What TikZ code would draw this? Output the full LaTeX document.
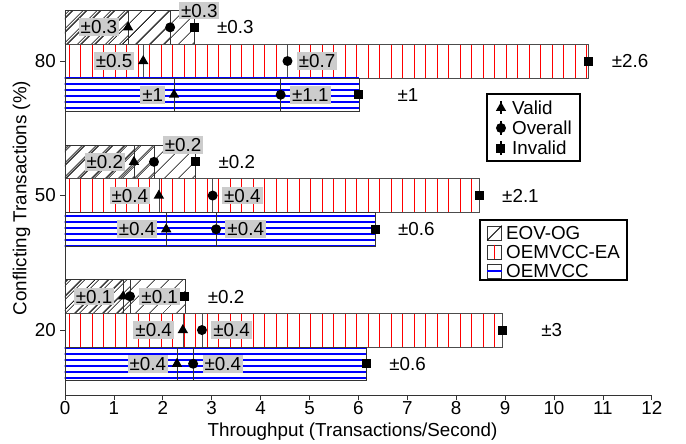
\documentclass[tikz,border=0pt]{standalone}
\usepackage{fontspec}
\setmainfont{Liberation Sans}
\usepackage{tikz}
\usetikzlibrary{patterns.meta,positioning,shapes}
\definecolor{oemblue}{RGB}{0,0,255}
\definecolor{eared}{RGB}{255,0,0}
% three overlapping bars of one row: name, top, style, valid, overall, invalid
\newcommand{\barrow}[6]{%
  \draw [#3] (0,#2) rectangle (#6,#2+33.7);
  \draw [#3] (0,#2) rectangle (#5,#2+33.7);
  \draw [#3] (0,#2) rectangle (#4,#2+33.7);
  \node [sqmark] (#1i) at (#6,#2+16.85) {};
  \node [dotmark] (#1o) at (#5,#2+16.85) {};
  \node [trimark] (#1v) at (#4,#2+16.85) {};
}
\tikzset{
  eovbar/.style={draw=black!80,line width=0.6pt,
    pattern={Lines[angle=45,distance=10.5pt,line width=0.7pt]},pattern color=black},
  eabar/.style={draw=black!70,line width=0.6pt,
    pattern={Lines[angle=90,distance=11.5pt,line width=0.8pt]},pattern color=eared},
  oembar/.style={draw=black!80,line width=0.6pt,
    pattern={Lines[angle=0,distance=6pt,line width=1.1pt]},pattern color=oemblue},
  trimark/.style={fill=black,regular polygon,regular polygon sides=3,
   minimum size=12pt,inner sep=0pt},
  dotmark/.style={fill=black,circle,minimum size=10pt,inner sep=0pt},
  sqmark/.style={fill=black,rectangle,minimum size=9pt,inner sep=0pt},
  errbox/.style={fill=black!20,inner xsep=2pt,inner ysep=2.2pt,
    text height=13.3pt,text depth=0pt},
  errtext/.style={inner sep=0pt,text height=13.3pt,text depth=0pt},
  axisline/.style={draw=black!80,line width=0.7pt},
  legbox/.style={draw=black,line width=1.5pt,inner sep=0pt},
  legtext/.style={anchor=west,inner sep=0pt},
  swatch/.style={draw=black!80,line width=0.6pt,minimum size=14pt,inner sep=0pt}
}
\begin{document}
\begin{tikzpicture}[x=48.9pt,y=-1pt,font=\fontsize{18.8}{22}\selectfont]
  \useasboundingbox (-1.3292,0) rectangle (12.6994,444);

  % 80 %
  \barrow{a80}{10.5}{eovbar}{1.29}{2.15}{2.64}
  \barrow{b80}{44.2}{eabar}{1.6}{4.55}{10.71}
  \barrow{c80}{77.9}{oembar}{2.23}{4.41}{6.01}
  % 50 %
  \barrow{a50}{145}{eovbar}{1.41}{1.82}{2.67}
  \barrow{b50}{178.7}{eabar}{1.92}{3.02}{8.47}
  \barrow{c50}{212.4}{oembar}{2.07}{3.09}{6.34}
  % 20 %
  \barrow{a20}{279.5}{eovbar}{1.19}{1.33}{2.45}
  \barrow{b20}{313.2}{eabar}{2.41}{2.8}{8.95}
  \barrow{c20}{346.9}{oembar}{2.29}{2.62}{6.16}

  \node [errbox,left=5pt of a80v] (ea80v) {±0.3};
  \node [errbox,anchor=south west] (ea80o) at ([shift={(5pt,4pt)}]a80o.north east) {±0.3};
  \node [errtext,right=55pt of a80i.east,anchor=east] (ea80i) {±0.3};
  \node [errbox,left=5pt of b80v] (eb80v) {±0.5};
  \node [errbox,right=4pt of b80o] (eb80o) {±0.7};
  \node [errtext,right=55pt of b80i.east,anchor=east] (eb80i) {±2.6};
  \node [errbox,left=5pt of c80v] (ec80v) {±1};
  \node [errbox,right=4pt of c80o] (ec80o) {±1.1};
  \node [errtext,right=55pt of c80i.east,anchor=east] (ec80i) {±1};

  \node [errbox,left=5pt of a50v] (ea50v) {±0.2};
  \node [errbox,anchor=south west] (ea50o) at ([shift={(5pt,4pt)}]a50o.north east) {±0.2};
  \node [errtext,right=55pt of a50i.east,anchor=east] (ea50i) {±0.2};
  \node [errbox,left=5pt of b50v] (eb50v) {±0.4};
  \node [errbox,right=4pt of b50o] (eb50o) {±0.4};
  \node [errtext,right=55pt of b50i.east,anchor=east] (eb50i) {±2.1};
  \node [errbox,left=5pt of c50v] (ec50v) {±0.4};
  \node [errbox,right=4pt of c50o] (ec50o) {±0.4};
  \node [errtext,right=55pt of c50i.east,anchor=east] (ec50i) {±0.6};

  \node [errbox,left=5pt of a20v] (ea20v) {±0.1};
  \node [errbox,right=4pt of a20o] (ea20o) {±0.1};
  \node [errtext,right=55pt of a20i.east,anchor=east] (ea20i) {±0.2};
  \node [errbox,left=5pt of b20v] (eb20v) {±0.4};
  \node [errbox,right=4pt of b20o] (eb20o) {±0.4};
  \node [errtext,right=55pt of b20i.east,anchor=east] (eb20i) {±3};
  \node [errbox,left=5pt of c20v] (ec20v) {±0.4};
  \node [errbox,right=4pt of c20o] (ec20o) {±0.4};
  \node [errtext,right=55pt of c20i.east,anchor=east] (ec20i) {±0.6};

  % axes
  \draw [axisline] (0,10.5) -- (0,395) -- (12,395);
  \foreach \t in {0,...,12}
    \draw [axisline] (\t,395) -- (\t,400) node [below=1pt,inner sep=0pt] {\t};
  \draw [axisline] (0,61) -- (-0.1,61) node [left=4pt,inner sep=0pt] (y80) {80};
  \draw [axisline] (0,195.5) -- (-0.1,195.5) node [left=4pt,inner sep=0pt] (y50) {50};
  \draw [axisline] (0,330) -- (-0.1,330) node [left=4pt,inner sep=0pt] (y20) {20};
  \node (xlab) at (5.88,432) {Throughput (Transactions/Second)};
  \node [rotate=90] (ylab) at (-0.89,198) {Conflicting Transactions (\%)};

  % marker legend
  \node [legbox,minimum width=93pt,minimum height=67pt] (legm) at (9.581,127.5) {};
  \node [trimark] (lv) at (8.916,108) {};
  \node [dotmark] (lo) at (8.916,128) {};
  \node [sqmark] (li) at (8.916,148) {};
  \draw [line width=1.5pt] ([yshift=7pt]lv.center) -- ([yshift=-6.5pt]lv.center);
  \draw [line width=1.5pt] ([yshift=7pt]lo.center) -- ([yshift=-6.5pt]lo.center);
  \draw [line width=1.5pt] ([yshift=7pt]li.center) -- ([yshift=-6.5pt]li.center);
  \node [legtext] (tv) at (9.141,108) {Valid};
  \node [legtext] (to) at (9.141,128) {Overall};
  \node [legtext] (ti) at (9.141,148) {Invalid};

  % bar legend
  \node [legbox,minimum width=147pt,minimum height=60pt] (legb) at (9.990,250) {};
  \node [swatch] (s1) at (8.783,233) {};
  \node [swatch] (s2) at (8.783,252) {};
  \node [swatch] (s3) at (8.783,271) {};
  \draw [line width=1pt] (s1.south west) -- (s1.north east);
  \draw [eared,line width=1pt] (s2.north) -- (s2.south);
  \draw [oemblue,line width=1.2pt] (s3.west) -- (s3.east);
  \node [legtext] (t1) at (9.018,233) {EOV-OG};
  \node [legtext] (t2) at (9.018,252) {OEMVCC-EA};
  \node [legtext] (t3) at (9.018,271) {OEMVCC};
\end{tikzpicture}
\end{document}
